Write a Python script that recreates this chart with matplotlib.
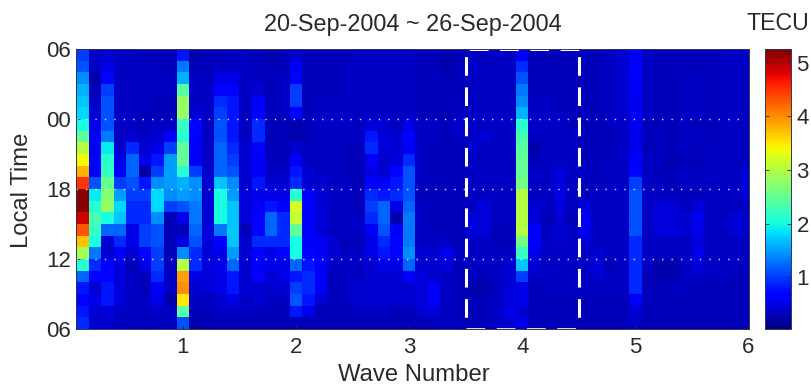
import numpy as np
import matplotlib
matplotlib.use("Agg")
import matplotlib.pyplot as plt

plt.rcParams['font.family'] = ['Liberation Sans', 'DejaVu Sans']

title = "20-Sep-2004 ~ 26-Sep-2004"
cbar_title = "TECU"
xlabel = "Wave Number"
ylabel = "Local Time"
x_ticks = [1, 2, 3, 4, 5, 6]
y_ticks = [0, 6, 12, 18, 24]
y_ticklabels = ["06", "12", "18", "00", "06"]
cbar_ticks = [1, 2, 3, 4, 5]
vmin, vmax = 0.03, 5.26
box_range = (3.5, 4.5)
dotted_hours = [6, 12, 18]

# TECU per wave-number bin (k/9), listed from the top row (06 LT) down to the bottom row
w01 = [1.0,1.1,1.4,1.6,1.7,1.8,2.0,2.5,3.0,3.4,3.8,4.5,5.2,5.2,4.9,4.3,3.7,2.9,2.1,1.2,.8,.7,.8,.9]
w02 = [.35,.35,.25,.3,.35,.4,.5,.6,.6,.7,.6,1.1,1.9,2.1,2.3,2.2,2.0,1.3,.9,.7,.4,.5,.4,.4]
w03 = [.4,.5,.7,1.0,1.1,1.1,1.1,1.3,1.9,2.1,2.2,2.5,2.7,2.8,2.0,1.2,.4,.4,.6,.7,.8,.8,.45,.4]
w04 = [.35,.35,.35,.35,.35,.35,.35,.35,.4,.5,.6,1.0,1.5,1.8,1.7,1.2,.9,.6,.45,.45,.45,.45,.35,.35]
w05 = [.35,.35,.35,.35,.35,.35,.35,.4,.9,1.2,1.2,1.1,1.0,.9,.9,.5,.5,.4,.3,.35,.35,.35,.35,.35]
w06 = [.3,.35,.35,.35,.35,.3,.35,.35,.4,.5,.2,.8,1.0,.9,.9,1.0,1.0,.7,.5,.3,.3,.35,.35,.3]
w07 = [.3,.3,.35,.35,.3,.3,.35,.4,.5,.8,1.0,1.4,1.8,1.8,1.4,1.1,1.1,1.0,1.0,.9,.6,.5,.35,.35]
w08 = [.3,.3,.35,.35,.3,.3,.35,.6,1.0,1.5,1.5,1.5,1.4,1.0,.3,.3,.3,.3,.35,.35,.35,.25,.35,.35]
w09 = [.8,1.3,1.6,2.4,2.8,2.8,2.2,2.1,2.5,2.5,2.1,1.6,1.5,1.1,.5,.3,.5,1.4,3.0,3.9,4.0,3.5,2.4,1.1]
w10 = [.25,.3,.35,.35,.35,.4,.7,.7,.6,.6,1.0,1.4,1.4,1.3,1.3,1.2,1.1,.9,.9,.5,.4,.35,.3,.25]
w11 = [.3,.3,.3,.35,.35,.35,.35,.35,.35,.35,.4,.4,.4,.4,.45,.45,.45,.45,.45,.45,.45,.35,.3,.3]
w12 = [.3,.35,.5,.7,.9,1.0,1.1,1.1,1.2,1.2,1.2,1.7,2.0,2.0,2.0,1.3,.7,.5,.5,.5,.5,.4,.35,.3]
w13 = [.3,.35,.5,.7,.8,.8,.8,.8,.9,1.0,1.1,1.4,1.5,1.7,1.7,1.7,1.7,1.5,1.2,.8,.8,.5,.35,.3]
w14 = [.35,.35,.35,.35,.35,.35,.35,.35,.4,.4,.4,.4,.45,.45,.45,.3,.4,.4,.4,.4,.4,.35,.35,.3]
w15 = [.3,.3,.35,.4,.6,.7,.9,.9,.7,.6,.6,.8,.5,.6,.7,.7,.9,.7,.6,.7,.4,.4,.3,.3]
w16 = [.25,.3,.3,.3,.3,.3,.3,.3,.3,.35,.35,.4,.5,.8,1.2,1.2,.9,.5,.5,.4,.4,.35,.3,.3]
w17 = [.3,.3,.35,.35,.35,.35,.3,.3,.3,.3,.35,.4,.5,.7,.9,.9,.9,.7,.5,.5,.4,.35,.3,.3]
w18 = [.4,.6,.7,1.0,1.0,.7,.25,.25,.4,.6,.8,.9,2.1,3.2,3.1,2.5,2.0,2.0,1.2,.8,1.0,1.1,.8,.3]
w19 = [.3,.3,.3,.3,.3,.3,.3,.3,.35,.35,.4,.4,.6,.6,.6,.6,.6,.7,.8,.9,.9,.8,.5,.3]
w20 = [.3,.3,.3,.3,.35,.35,.35,.35,.35,.35,.35,.4,.4,.45,.45,.45,.6,.6,.6,.6,.6,.4,.3,.3]
w21 = [.3,.3,.3,.3,.35,.35,.35,.35,.35,.35,.35,.35,.35,.35,.35,.35,.4,.4,.35,.3,.3,.3,.3,.3]
w22 = [.3,.35,.35,.35,.35,.35,.35,.35,.3,.3,.3,.35,.35,.35,.35,.35,.3,.35,.35,.35,.35,.35,.3,.3]
w23 = [.35,.35,.35,.35,.35,.35,.35,.35,.3,.3,.3,.3,.3,.3,.35,.35,.3,.35,.35,.35,.4,.4,.35,.3]
w24 = [.35,.35,.35,.35,.35,.35,.45,.8,.9,.6,.5,.6,.9,1.0,.9,.6,.5,.5,.4,.4,.4,.4,.35,.3]
w25 = [.35,.35,.35,.35,.35,.35,.4,.45,.45,.4,.4,.6,.8,1.2,1.2,1.1,.9,.8,.5,.4,.4,.4,.35,.3]
w26 = [.35,.35,.35,.35,.35,.35,.35,.4,.4,.45,.7,.8,.9,.5,.25,.6,.7,.7,.5,.4,.4,.4,.3,.3]
w27 = [.35,.35,.35,.35,.35,.35,.5,.7,.6,.9,1.1,1.1,1.1,1.2,1.3,1.3,1.3,1.4,1.2,.6,.4,.4,.3,.3]
w28 = [.3,.3,.3,.3,.3,.3,.35,.35,.35,.35,.35,.35,.3,.35,.35,.35,.35,.4,.4,.45,.45,.45,.4,.3]
w29 = [.3,.3,.3,.3,.3,.3,.35,.35,.3,.3,.3,.3,.3,.3,.3,.3,.35,.4,.4,.4,.6,.6,.45,.3]
w30 = [.25,.25,.3,.3,.3,.3,.3,.3,.3,.3,.3,.3,.3,.3,.3,.3,.35,.55,.45,.35,.35,.35,.35,.35]
w31 = [.3,.3,.3,.3,.3,.35,.4,.35,.3,.3,.3,.3,.3,.3,.3,.3,.3,.35,.3,.3,.3,.3,.3,.3]
w32 = [.35,.35,.35,.35,.35,.35,.35,.35,.4,.35,.35,.35,.35,.35,.45,.45,.35,.35,.35,.3,.25,.3,.3,.3]
w33 = [.35,.35,.35,.35,.35,.35,.35,.45,.35,.35,.35,.35,.35,.45,.45,.45,.35,.35,.35,.3,.25,.3,.3,.3]
w34 = [.35,.35,.35,.35,.35,.35,.35,.35,.35,.35,.35,.35,.35,.35,.35,.3,.3,.35,.35,.35,.35,.35,.35,.35]
w35 = [.35,.35,.35,.35,.35,.35,.35,.35,.35,.35,.35,.35,.35,.35,.35,.3,.3,.35,.4,.4,.45,.45,.5,.4]
w36 = [.6,.9,1.1,1.3,1.4,1.6,2.1,2.3,2.4,2.5,2.5,2.6,3.0,3.0,3.0,3.0,2.6,2.2,1.7,1.0,.5,.5,.4,.5]
w37 = [.3,.3,.3,.3,.35,.35,.35,.35,.25,.3,.35,.35,.35,.4,.45,.6,.65,.5,.4,.35,.3,.3,.3,.3]
w38 = [.3,.3,.3,.3,.35,.35,.35,.35,.35,.35,.35,.35,.35,.35,.3,.35,.35,.35,.35,.35,.35,.3,.3,.3]
w39 = [.3,.3,.3,.3,.3,.35,.35,.35,.35,.35,.45,.45,.5,.45,.4,.4,.4,.35,.35,.35,.35,.3,.3,.3]
w40 = [.3,.3,.3,.3,.3,.3,.3,.35,.35,.35,.35,.35,.35,.35,.3,.35,.35,.35,.35,.35,.35,.3,.3,.3]
w41 = [.3,.3,.3,.3,.3,.3,.3,.3,.3,.3,.35,.3,.35,.45,.55,.55,.45,.35,.35,.35,.35,.3,.3,.3]
w42 = [.3,.3,.3,.3,.3,.3,.3,.3,.3,.3,.3,.3,.35,.35,.35,.35,.35,.4,.45,.4,.35,.3,.3,.3]
w43 = [.35,.35,.35,.35,.35,.35,.35,.3,.3,.35,.35,.35,.35,.35,.35,.35,.35,.35,.3,.35,.35,.3,.3,.3]
w44 = [.4,.4,.4,.4,.4,.4,.35,.35,.35,.35,.35,.35,.35,.35,.35,.35,.35,.35,.35,.35,.35,.3,.3,.3]
w45 = [.65,.65,.6,.6,.55,.55,.55,.55,.55,.6,.7,1.0,1.1,1.1,1.1,1.1,.9,.9,.9,.9,.9,.6,.4,.35]
w46 = [.35,.35,.35,.35,.35,.35,.3,.3,.3,.35,.35,.35,.35,.35,.35,.35,.35,.35,.35,.3,.3,.3,.3,.3]
w47 = [.3,.3,.3,.3,.3,.3,.3,.35,.35,.35,.3,.35,.35,.45,.45,.45,.35,.35,.25,.25,.3,.3,.3,.3]
w48 = [.3,.3,.3,.3,.3,.3,.3,.3,.3,.25,.3,.3,.35,.45,.45,.45,.35,.35,.25,.25,.35,.3,.3,.3]
w49 = [.3,.3,.35,.35,.35,.35,.35,.35,.35,.3,.35,.35,.3,.35,.4,.4,.35,.35,.35,.35,.35,.3,.3,.3]
w50 = [.3,.3,.35,.35,.35,.35,.3,.35,.3,.3,.35,.35,.3,.45,.55,.5,.45,.55,.45,.35,.3,.3,.3,.3]
w51 = [.3,.3,.3,.3,.3,.3,.3,.3,.35,.35,.35,.35,.35,.35,.35,.35,.35,.35,.35,.35,.3,.3,.3,.3]
w52 = [.35,.35,.35,.35,.35,.35,.35,.35,.35,.35,.35,.35,.35,.35,.35,.35,.35,.35,.35,.35,.3,.3,.3,.3]
w53 = [.35,.35,.35,.35,.35,.35,.35,.35,.35,.35,.35,.35,.35,.35,.45,.45,.35,.35,.35,.3,.3,.3,.3,.3]
w54 = [.35,.35,.35,.35,.35,.35,.35,.35,.35,.35,.45,.45,.45,.35,.35,.35,.35,.35,.35,.3,.3,.3,.3,.3]

columns = [w01,w02,w03,w04,w05,w06,w07,w08,w09,w10,w11,w12,w13,w14,w15,w16,w17,w18,
           w19,w20,w21,w22,w23,w24,w25,w26,w27,w28,w29,w30,w31,w32,w33,w34,w35,w36,
           w37,w38,w39,w40,w41,w42,w43,w44,w45,w46,w47,w48,w49,w50,w51,w52,w53,w54]
Z = np.array(columns, dtype=float).T[::-1]   # rows now run upward from the bottom 06 LT

W, H = 812, 388
def axes_px(l, t, r, b):
    return [l / W, 1 - b / H, (r - l) / W, (b - t) / H]

fig = plt.figure(figsize=(W / 100, H / 100), dpi=100)
ax = fig.add_axes(axes_px(76.5, 49, 749, 329))
edge_col = "#333355"
text_col = "#2a2a2a"
fs = 16

x_edges = (np.arange(Z.shape[1] + 1) + 0.5) / 9
y_edges = np.arange(Z.shape[0] + 1)
ax.pcolormesh(x_edges, y_edges, Z, cmap="jet", vmin=vmin, vmax=vmax, shading="flat")
ax.set_xlim(0.06, 6.005)
ax.set_ylim(0, 24)
ax.set_xticks(x_ticks)
ax.set_yticks(y_ticks)
ax.set_yticklabels(y_ticklabels)
ax.tick_params(direction="in", length=3, width=0.6, labelsize=fs, colors=text_col, pad=4,
               top=False, right=False)
ax.tick_params(axis="x", pad=6)
for s in ax.spines.values():
    s.set_linewidth(0.7)
    s.set_color(edge_col)

for h in dotted_hours:
    ax.plot([0.06, 5.95], [h, h], color="#dfe6ff", lw=1.0, ls=(0, (1, 5.8)), solid_capstyle="butt")

# dashed white box around wave number 4
box_kw = dict(color="white", lw=2.2, dash_capstyle="butt")
on, off = 6.1, 3.8
ax.plot([box_range[0]] * 2, [24, 0], ls=(7.4, (on, off)), **box_kw)
ax.plot([box_range[1]] * 2, [24, 0], ls=(7.4, (on, off)), **box_kw)
ax.plot(box_range, [24, 24], ls=(8.8, (on, off)), **box_kw)
ax.plot(box_range, [0, 0], ls=(0, (on, off)), color="#d8d8e0", lw=2.2, dash_capstyle="butt")

cax = fig.add_axes(axes_px(765.5, 49, 791, 329))
grad = np.linspace(vmin, vmax, 256)[:, None]
cax.imshow(grad, aspect="auto", origin="lower", cmap="jet", vmin=vmin, vmax=vmax,
           extent=[0, 1, vmin, vmax])
cax.set_xticks([])
cax.set_yticks(cbar_ticks)
cax.yaxis.tick_right()
cax.tick_params(axis="y", direction="in", length=3, width=0.6, labelsize=fs, colors=text_col,
                pad=4, left=True, right=True)
for s in cax.spines.values():
    s.set_linewidth(0.7)
    s.set_color(edge_col)

fig.text(412.5 / W, 1 - 24 / H, title, ha="center", va="center", fontsize=16.9, color=text_col)
fig.text(778 / W, 1 - 24 / H, cbar_title, ha="center", va="center", fontsize=16.7, color=text_col)
fig.text(414 / W, 1 - 375 / H, xlabel, ha="center", va="center", fontsize=17.2, color=text_col)
fig.text(22 / W, 1 - 190 / H, ylabel, ha="center", va="center", rotation=90, fontsize=17.2, color=text_col)

fig.savefig("out.png", dpi=100)
